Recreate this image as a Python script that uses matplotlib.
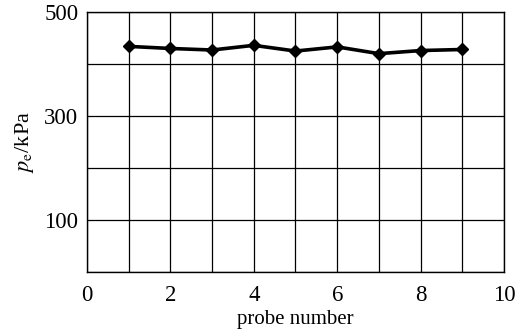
import matplotlib
matplotlib.use('Agg')
import matplotlib.pyplot as plt

# data
probe = [1, 2, 3, 4, 5, 6, 7, 8, 9]
pe = [434, 430, 427, 436, 425, 433, 420, 426, 428]

xticks = [0, 2, 4, 6, 8, 10]
yticks = [100, 300, 500]

plt.rcParams['font.family'] = ['Liberation Serif', 'DejaVu Serif']
plt.rcParams['mathtext.fontset'] = 'stix'

fig = plt.figure(figsize=(5.23, 3.35), dpi=100)
ax = fig.add_axes([0.166, 0.188, 0.798, 0.776])

ax.plot(probe, pe, color='black', lw=2.6, marker='D', ms=6.5, zorder=3)

ax.set_xlim(0, 10)
ax.set_ylim(0, 500)
ax.set_xticks(range(0, 11))
ax.set_xticklabels([str(v) if v in xticks else '' for v in range(0, 11)])
ax.set_yticks(range(0, 501, 100))
ax.set_yticklabels([str(v) if v in yticks else '' for v in range(0, 501, 100)])
ax.grid(True, color='black', lw=0.9)
ax.tick_params(length=0, labelsize=16.5)
ax.tick_params(axis='x', pad=9)
ax.tick_params(axis='y', pad=6)
for s in ax.spines.values():
    s.set_linewidth(1.0)

ax.set_xlabel('probe number', fontsize=15, labelpad=3)
ax.set_ylabel(r'$p_{\mathrm{e}}$/kPa', fontsize=16, labelpad=6)

fig.savefig('out.png', dpi=100)
